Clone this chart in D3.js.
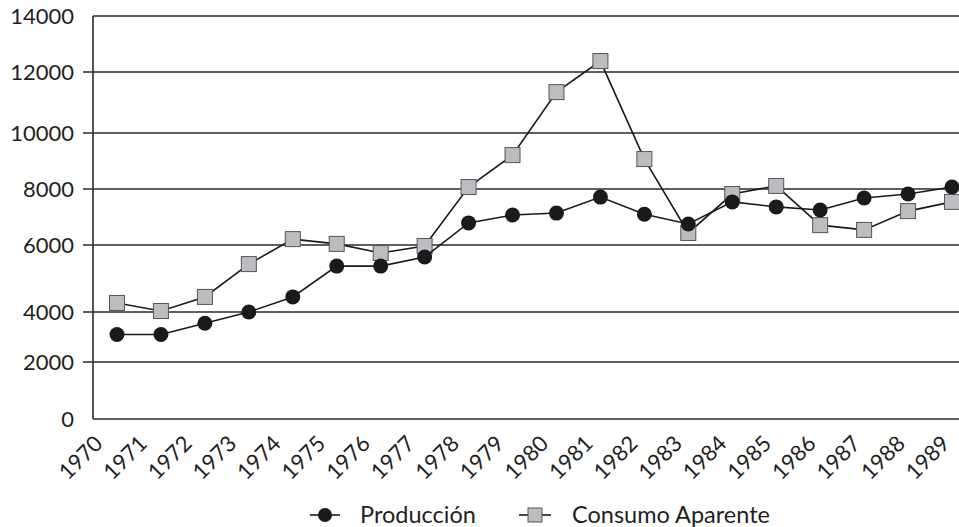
<!DOCTYPE html>
<html>
<head>
<meta charset="utf-8">
<script src="https://cdn.jsdelivr.net/npm/d3@7"></script>
<style>
  html, body { margin: 0; padding: 0; background: #fff; }
  text { font-family: Lato, "Open Sans", sans-serif; fill: #1f1f1f; }
</style>
</head>
<body>
<svg id="chart" width="959" height="527"></svg>
<script>
// Years on the horizontal axis
const years = [1970, 1971, 1972, 1973, 1974, 1975, 1976, 1977, 1978, 1979,
               1980, 1981, 1982, 1983, 1984, 1985, 1986, 1987, 1988, 1989];

// Producción (circles)
const produccion = [3100, 3100, 3550, 4000, 4450, 5370, 5370, 5640, 6790, 7070,
                    7140, 7710, 7100, 6750, 7540, 7360, 7250, 7680, 7820, 8070];

// Consumo Aparente (squares)
const consumoAparente = [4270, 4030, 4450, 5430, 6210, 6040, 5760, 5970, 8070, 9210,
                         11340, 12390, 9070, 6430, 7820, 8110, 6710, 6540, 7210, 7540];

// Vertical axis tick values
const yTicks = [0, 2000, 4000, 6000, 8000, 10000, 12000, 14000];

const seriesNames = ["Producción", "Consumo Aparente"];

const svg = d3.select("#chart");

const plotLeft = 93, plotRight = 959;

// Category positions of the points and of the rotated year labels
const x = d3.scalePoint().domain(years).range([117, 952]);
const xLabel = d3.scalePoint().domain(years).range([104, 951]);

// The printed value axis has unevenly spaced gridlines; a piecewise scale follows them
const y = d3.scaleLinear()
  .domain(yTicks)
  .range([419, 362, 312, 245, 189, 133, 72, 16]);

// Gridlines with short outer ticks
const grid = svg.append("g");
grid.selectAll("line")
  .data(yTicks)
  .join("line")
  .attr("x1", d => (d === 0 || d === 14000) ? plotLeft : plotLeft - 10)
  .attr("x2", plotRight)
  .attr("y1", d => y(d))
  .attr("y2", d => y(d))
  .attr("stroke", "#2a2a2a")
  .attr("stroke-width", 1.6);

// Left axis line
svg.append("line")
  .attr("x1", plotLeft).attr("x2", plotLeft)
  .attr("y1", y(14000)).attr("y2", y(0))
  .attr("stroke", "#2a2a2a")
  .attr("stroke-width", 1.6);

// Value labels
svg.append("g").selectAll("text")
  .data(yTicks)
  .join("text")
  .attr("x", 74)
  .attr("y", d => y(d))
  .attr("dy", "0.36em")
  .attr("text-anchor", "end")
  .attr("font-size", 22)
  .text(d => d);

// Year labels, rotated
svg.append("g").selectAll("text")
  .data(years)
  .join("text")
  .attr("transform", d => `translate(${xLabel(d)},445) rotate(-45)`)
  .attr("text-anchor", "end")
  .attr("font-size", 22)
  .text(d => d);

const line = d3.line()
  .x((d, i) => x(years[i]))
  .y(d => y(d));

// Consumo Aparente series
svg.append("path")
  .datum(consumoAparente)
  .attr("d", line)
  .attr("fill", "none")
  .attr("stroke", "#1a1a1a")
  .attr("stroke-width", 1.6);

const sq = 15;
svg.append("g").selectAll("rect")
  .data(consumoAparente)
  .join("rect")
  .attr("x", (d, i) => x(years[i]) - sq / 2)
  .attr("y", d => y(d) - sq / 2)
  .attr("width", sq)
  .attr("height", sq)
  .attr("fill", "#bcbdc1")
  .attr("stroke", "#555")
  .attr("stroke-width", 1);

// Producción series
svg.append("path")
  .datum(produccion)
  .attr("d", line)
  .attr("fill", "none")
  .attr("stroke", "#1a1a1a")
  .attr("stroke-width", 1.6);

svg.append("g").selectAll("circle")
  .data(produccion)
  .join("circle")
  .attr("cx", (d, i) => x(years[i]))
  .attr("cy", d => y(d))
  .attr("r", 7.5)
  .attr("fill", "#1a1a1a");

// Legend
const legendY = 515;
const lg = svg.append("g");

lg.append("line")
  .attr("x1", 310).attr("x2", 340)
  .attr("y1", legendY).attr("y2", legendY)
  .attr("stroke", "#1a1a1a").attr("stroke-width", 1.6);
lg.append("circle")
  .attr("cx", 325).attr("cy", legendY).attr("r", 7)
  .attr("fill", "#1a1a1a");
lg.append("text")
  .attr("x", 360).attr("y", legendY).attr("dy", "0.36em")
  .attr("font-size", 23.5)
  .text(seriesNames[0]);

lg.append("line")
  .attr("x1", 519).attr("x2", 551)
  .attr("y1", legendY).attr("y2", legendY)
  .attr("stroke", "#1a1a1a").attr("stroke-width", 1.6);
lg.append("rect")
  .attr("x", 535 - 7).attr("y", legendY - 7)
  .attr("width", 14).attr("height", 14)
  .attr("fill", "#bcbdc1").attr("stroke", "#555").attr("stroke-width", 1);
lg.append("text")
  .attr("x", 572).attr("y", legendY).attr("dy", "0.36em")
  .attr("font-size", 23.5)
  .text(seriesNames[1]);
</script>
</body>
</html>
